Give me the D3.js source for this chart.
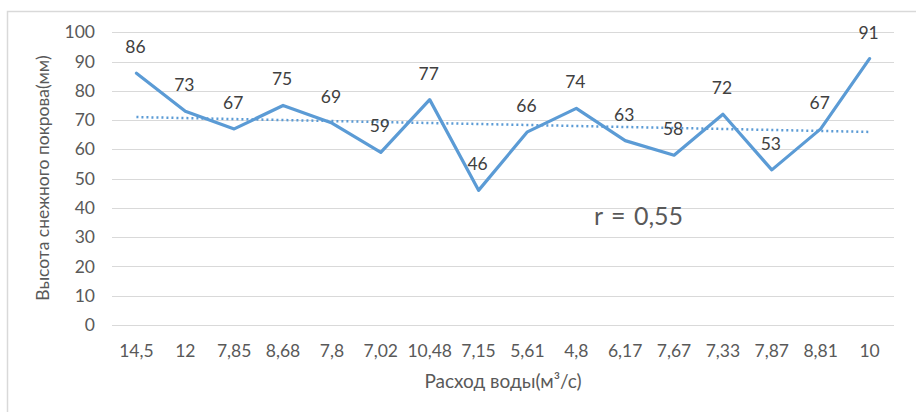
<!DOCTYPE html>
<html><head><meta charset="utf-8">
<script src="https://cdn.jsdelivr.net/npm/d3@7"></script>
<style>body{margin:0;background:#fff}svg{display:block}text{font-family:Lato,"Open Sans",sans-serif}</style>
</head><body><svg id="c" width="916" height="412"></svg>
<script>
const categories = ["14,5","12","7,85","8,68","7,8","7,02","10,48","7,15","5,61","4,8","6,17","7,67","7,33","7,87","8,81","10"];
const heights = [86,73,67,75,69,59,77,46,66,74,63,58,72,53,67,91];
const yTicks = [0,10,20,30,40,50,60,70,80,90,100];
const yTitle = "Высота снежного покрова(мм)";
const xTitle = "Расход воды(м³/с)";
const annotation = "r = 0,55";

const svg = d3.select("#c");
svg.append("rect").attr("x",7.5).attr("y",11.5).attr("width",950).attr("height",450)
  .attr("fill","#fff").attr("stroke","#d9d9d9").attr("stroke-width",1.5);

const m = {l:112, r:894, t:32.3, b:325};
const x = d3.scaleBand().domain(categories).range([m.l,m.r]).padding(0);
const y = d3.scaleLinear().domain([0,100]).range([m.b,m.t]);
const cx = c => x(c)+x.bandwidth()/2;

const grid = svg.append("g");
grid.selectAll("line").data(yTicks).join("line")
  .attr("x1",m.l).attr("x2",m.r).attr("y1",d=>Math.round(y(d))+0.5).attr("y2",d=>Math.round(y(d))+0.5)
  .attr("stroke","#d9d9d9").attr("stroke-width",1);

const yAxis = svg.append("g").attr("transform",`translate(${m.l},0)`)
  .call(d3.axisLeft(y).tickValues(yTicks).tickSize(0).tickPadding(17));
yAxis.select(".domain").remove();
yAxis.selectAll("text").attr("font-size",17.5).attr("fill","#595959").style("font-family","Lato,sans-serif");

const xAxis = svg.append("g").attr("transform",`translate(0,${m.b})`)
  .call(d3.axisBottom(x).tickSize(0).tickPadding(0));
xAxis.select(".domain").remove();
xAxis.selectAll("text").attr("font-size",17.5).attr("fill","#595959").attr("dy",null).attr("y",32)
  .style("font-family","Lato,sans-serif");

// linear trendline (least squares on category index)
const n = heights.length;
const xs = d3.range(1,n+1);
const mx = d3.mean(xs), my = d3.mean(heights);
const slope = d3.sum(xs.map((xi,i)=>(xi-mx)*(heights[i]-my))) / d3.sum(xs.map(xi=>(xi-mx)**2));
const icpt = my - slope*mx;
svg.append("line")
  .attr("x1",cx(categories[0])).attr("x2",cx(categories[n-1]))
  .attr("y1",y(icpt+slope*1)).attr("y2",y(icpt+slope*n))
  .attr("stroke","#5b9bd5").attr("stroke-width",2.5).attr("stroke-dasharray","2,3");

const line = d3.line().x((d,i)=>cx(categories[i])).y(d=>y(d));
svg.append("path").datum(heights).attr("d",line).attr("fill","none")
  .attr("stroke","#5b9bd5").attr("stroke-width",3.2).attr("stroke-linejoin","round").attr("stroke-linecap","round");

svg.append("g").selectAll("text").data(heights).join("text")
  .attr("x",(d,i)=>cx(categories[i])-1).attr("y",d=>y(d)-20)
  .attr("text-anchor","middle").attr("font-size",17.5).attr("fill","#404040").text(d=>d);

svg.append("text").attr("x",45).attr("y",178).attr("transform","rotate(-90,45,178)")
  .attr("text-anchor","middle").attr("dominant-baseline","middle").attr("font-size",17.5).attr("fill","#595959").text(yTitle);
svg.append("text").attr("x",503).attr("y",388).attr("text-anchor","middle")
  .attr("font-size",19).attr("fill","#595959").text(xTitle);
svg.append("text").attr("x",594).attr("y",225).attr("font-size",25).attr("fill","#595959")
  .attr("word-spacing",2).text(annotation);
</script></body></html>
